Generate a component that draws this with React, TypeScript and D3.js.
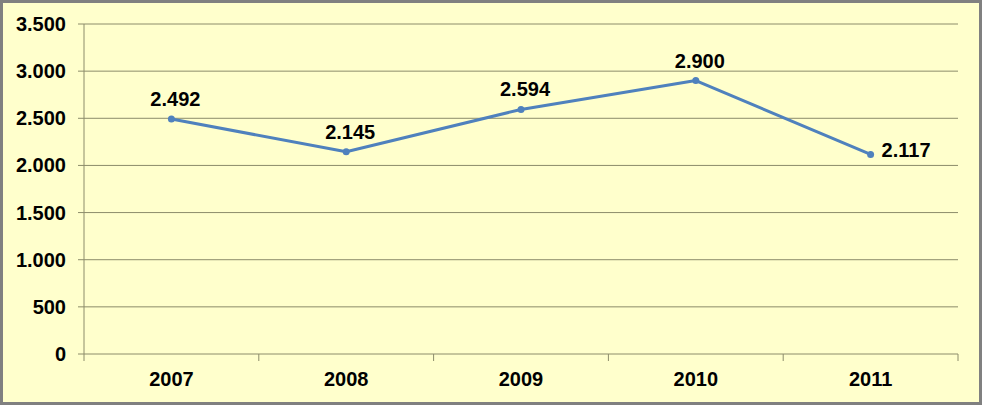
import React from "react";
import * as d3 from "d3";

const categories = ["2007", "2008", "2009", "2010", "2011"];
const values = [2492, 2145, 2594, 2900, 2117];
const yTicks = [0, 500, 1000, 1500, 2000, 2500, 3000, 3500];
const labelPos = ["top", "top", "top", "top", "right"];

const W = 982, H = 405;
const margin = { left: 84, right: 24, top: 24, bottom: 51 };

const fmt = (v: number) => {
  if (v < 1000) return String(v);
  const th = Math.floor(v / 1000);
  const r = v % 1000;
  return th + "." + String(r).padStart(3, "0");
};

export default function App() {
  const x = d3.scaleBand().domain(categories).range([margin.left, W - margin.right]);
  const y = d3.scaleLinear().domain([0, 3500]).range([H - margin.bottom, margin.top]);
  const line = d3.line<number>().x((_, i) => (x(categories[i]) as number) + x.bandwidth() / 2).y((d) => y(d));
  const font = "Arial, 'Liberation Sans', sans-serif";
  const grid = "#8c8c6a";
  const fs = 20;
  const boundaries = [...categories.map((c) => x(c) as number), W - margin.right];
  return (
    <div style={{ position: "absolute", left: 0, top: 0 }}>
      <svg width={W} height={H} style={{ display: "block" }}>
        <rect x={1.5} y={1.5} width={W - 3} height={H - 3} fill="#FFFFCC" stroke="#808080" strokeWidth={3} />
        {yTicks.map((t) => (
          <g key={t}>
            <line x1={margin.left - 6} x2={W - margin.right} y1={y(t)} y2={y(t)} stroke={grid} strokeWidth={1} />
            <text x={66} y={y(t)} dy="0.35em" textAnchor="end" fontFamily={font} fontWeight="bold" fontSize={fs} fill="#000">
              {fmt(t)}
            </text>
          </g>
        ))}
        <line x1={margin.left} x2={margin.left} y1={margin.top} y2={H - margin.bottom} stroke={grid} strokeWidth={1} />
        {boundaries.map((b, i) => (
          <line key={i} x1={b} x2={b} y1={H - margin.bottom} y2={H - margin.bottom + 7} stroke={grid} strokeWidth={1} />
        ))}
        {categories.map((c) => (
          <text key={c} x={(x(c) as number) + x.bandwidth() / 2} y={386} textAnchor="middle" fontFamily={font} fontWeight="bold" fontSize={fs} fill="#000">
            {c}
          </text>
        ))}
        <path d={line(values) || ""} fill="none" stroke="#4F81BD" strokeWidth={3} strokeLinejoin="round" />
        {values.map((v, i) => {
          const cx = (x(categories[i]) as number) + x.bandwidth() / 2;
          const cy = y(v);
          const right = labelPos[i] === "right";
          return (
            <g key={i}>
              <circle cx={cx} cy={cy} r={3.5} fill="#4F81BD" />
              <text
                x={right ? cx + 11 : cx + 4}
                y={right ? cy - 4 : cy - 13}
                dy={right ? "0.35em" : 0}
                textAnchor={right ? "start" : "middle"}
                fontFamily={font}
                fontWeight="bold"
                fontSize={fs}
                fill="#000"
              >
                {fmt(v)}
              </text>
            </g>
          );
        })}
      </svg>
    </div>
  );
}
